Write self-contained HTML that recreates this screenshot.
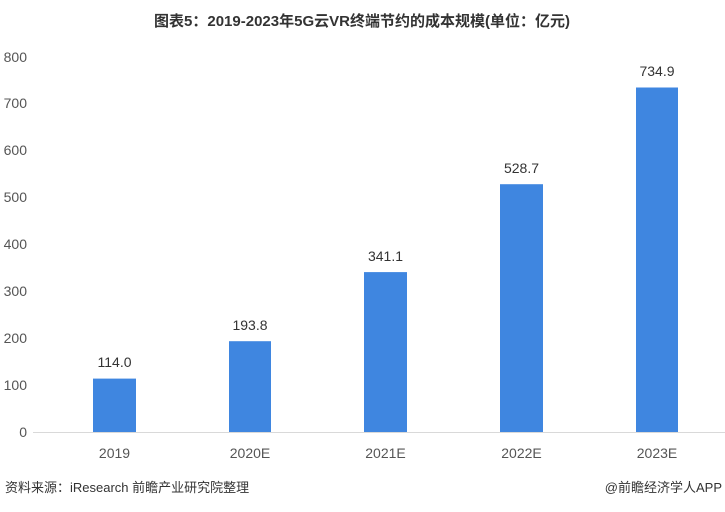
<!DOCTYPE html>
<html><head><meta charset="utf-8"><style>
body{margin:0;background:#fff;width:725px;height:507px;overflow:hidden;font-family:"Liberation Sans","Noto Sans CJK SC",sans-serif}
</style></head><body>
<svg width="725" height="507" xmlns="http://www.w3.org/2000/svg" font-family="Liberation Sans, Noto Sans CJK SC, sans-serif">
<text x="362" y="26" text-anchor="middle" font-size="15" font-weight="bold" fill="#333">图表5：2019-2023年5G云VR终端节约的成本规模(单位：亿元)</text>
<g font-size="14" fill="#555" text-anchor="end">
<text x="27" y="437">0</text><text x="27" y="390">100</text><text x="27" y="343">200</text><text x="27" y="296">300</text><text x="27" y="249">400</text><text x="27" y="202">500</text><text x="27" y="155">600</text><text x="27" y="108">700</text><text x="27" y="62">800</text>
</g>
<line x1="33" y1="432.5" x2="725" y2="432.5" stroke="#d9d9d9" stroke-width="1"/>
<g fill="#3f86e0">
<rect x="93" y="378.6" width="43" height="53.4"/>
<rect x="229" y="341.2" width="42" height="90.8"/>
<rect x="364" y="272.1" width="43" height="159.9"/>
<rect x="500" y="184.2" width="43" height="247.8"/>
<rect x="636" y="87.5" width="42" height="344.5"/>
</g>
<g font-size="14" fill="#333" text-anchor="middle">
<text x="114.5" y="367">114.0</text>
<text x="250" y="330">193.8</text>
<text x="385.5" y="261">341.1</text>
<text x="521.5" y="173">528.7</text>
<text x="657" y="76">734.9</text>
</g>
<g font-size="14" fill="#555" text-anchor="middle">
<text x="114.5" y="458">2019</text><text x="250" y="458">2020E</text><text x="385.5" y="458">2021E</text><text x="521.5" y="458">2022E</text><text x="657" y="458">2023E</text>
</g>
<text x="5" y="492" font-size="13" fill="#333">资料来源：iResearch 前瞻产业研究院整理</text>
<text x="722" y="492" font-size="13" fill="#333" text-anchor="end">@前瞻经济学人APP</text>
</svg>
</body></html>
